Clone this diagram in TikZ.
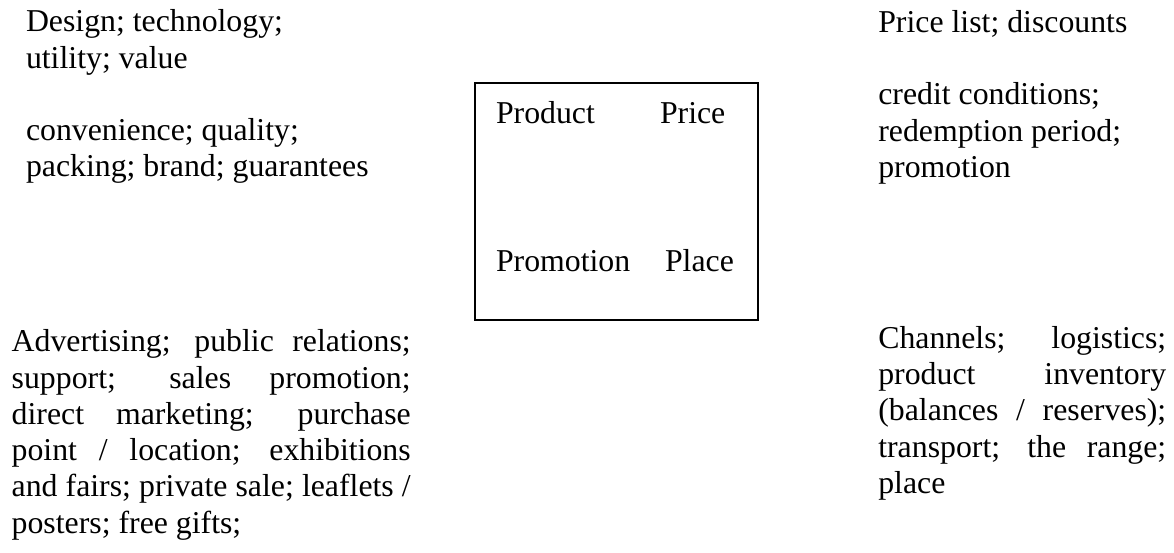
\documentclass[tikz,border=0pt]{standalone}
\usepackage{fontspec}
\setmainfont{Liberation Serif}
\newcommand\txtblock[1]{\vtop{\baselineskip=36.3pt\lineskiplimit=-1000pt\lineskip=0pt #1}}
\newcommand\jl[2]{\hbox{\makebox[#1][s]{#2}}}
\begin{document}
\begin{tikzpicture}[x=1pt,y=-1pt,
  txt/.style={anchor=base west, inner sep=0pt, outer sep=0pt, font=\fontsize{31.8}{36.3}\selectfont},
  mixbox/.style={draw, line width=2pt, inner sep=0pt, outer sep=0pt, anchor=north west}]
\useasboundingbox (0,0) rectangle (1174,552);
% top-left
\node[txt] (prod) at (26,31.7) {\txtblock{%
  \hbox{Design; technology;}
  \hbox{utility; value}
  \hbox{}
  \hbox{convenience; quality;}
  \hbox{packing; brand; guarantees}}};
% top-right
\node[txt] (price) at (878.3,32.3) {\txtblock{%
  \hbox{Price list; discounts}
  \hbox{}
  \hbox{credit conditions;}
  \hbox{redemption period;}
  \hbox{promotion}}};
% central box
\node[mixbox, minimum width=283.3pt, minimum height=236.4pt] (mix) at (475,83.3) {};
\node[txt] (lprod) at (496,123.3) {Product};
\node[txt] (lprice) at (660,123.3) {Price};
\node[txt] (lpromo) at (496,271.4) {Promotion};
\node[txt] (lplace) at (665,271.4) {Place};
% bottom-left
\node[txt] (promo) at (11.7,351.7) {\txtblock{%
  \jl{399pt}{Advertising; public relations;}
  \jl{399pt}{support; sales promotion;}
  \jl{399pt}{direct marketing; purchase}
  \jl{399pt}{point / location; exhibitions}
  \jl{399pt}{and fairs; private sale; leaflets /}
  \hbox{posters; free gifts;}}};
% bottom-right
\node[txt] (place) at (878.3,348.3) {\txtblock{%
  \jl{288pt}{Channels; logistics;}
  \jl{288pt}{product inventory}
  \jl{288pt}{(balances / reserves);}
  \jl{288pt}{transport; the range;}
  \hbox{place}}};
\end{tikzpicture}
\end{document}
